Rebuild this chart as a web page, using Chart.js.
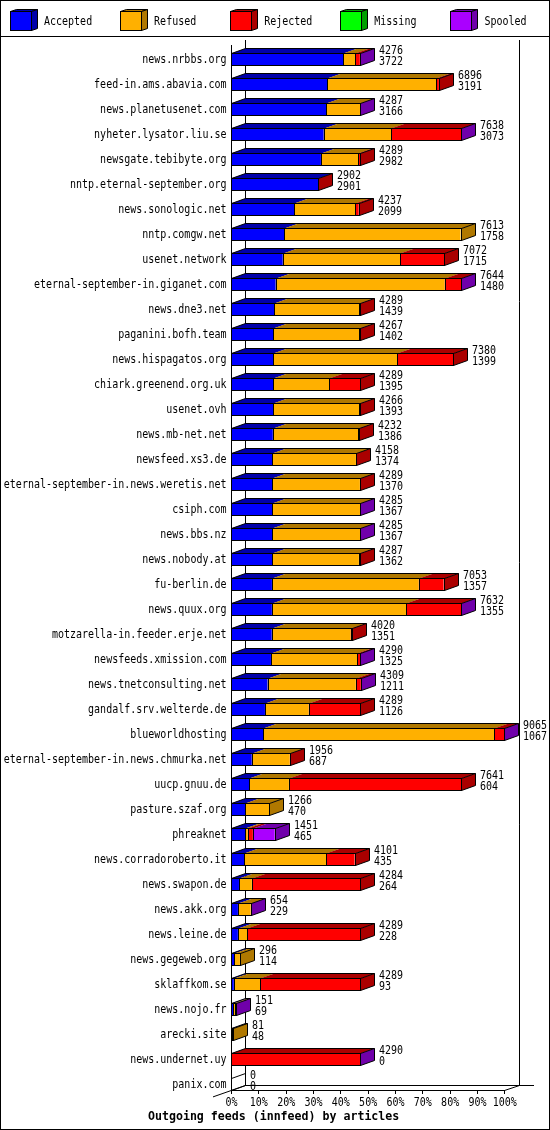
<!DOCTYPE html>
<html><head><meta charset="utf-8">
<script src="https://cdn.jsdelivr.net/npm/chart.js@4.4.0/dist/chart.umd.min.js"></script>
<style>html,body{margin:0;padding:0;background:#fff}canvas{display:block}</style>
</head><body>
<canvas id="c" width="550" height="1130"></canvas>
<script>
const hosts = ['news.nrbbs.org','feed-in.ams.abavia.com','news.planetusenet.com','nyheter.lysator.liu.se','newsgate.tebibyte.org','nntp.eternal-september.org','news.sonologic.net','nntp.comgw.net','usenet.network','eternal-september-in.giganet.com','news.dne3.net','paganini.bofh.team','news.hispagatos.org','chiark.greenend.org.uk','usenet.ovh','news.mb-net.net','newsfeed.xs3.de','eternal-september-in.news.weretis.net','csiph.com','news.bbs.nz','news.nobody.at','fu-berlin.de','news.quux.org','motzarella-in.feeder.erje.net','newsfeeds.xmission.com','news.tnetconsulting.net','gandalf.srv.welterde.de','blueworldhosting','eternal-september-in.news.chmurka.net','uucp.gnuu.de','pasture.szaf.org','phreaknet','news.corradoroberto.it','news.swapon.de','news.akk.org','news.leine.de','news.gegeweb.org','sklaffkom.se','news.nojo.fr','arecki.site','news.undernet.uy','panix.com'];
const offered  = [4276,6896,4287,7638,4289,2902,4237,7613,7072,7644,4289,4267,7380,4289,4266,4232,4158,4289,4285,4285,4287,7053,7632,4020,4290,4309,4289,9065,1956,7641,1266,1451,4101,4284,654,4289,296,4289,151,81,4290,0];
const accepted = [3722,3191,3166,3073,2982,2901,2099,1758,1715,1480,1439,1402,1399,1395,1393,1386,1374,1370,1367,1367,1362,1357,1355,1351,1325,1211,1126,1067,687,604,470,465,435,264,229,228,114,93,69,48,0,0];
const refused  = [406,3610,1118,2250,1240,0,2030,5855,3895,5605,2820,2850,4120,1860,2860,2836,2770,2905,2915,2915,2880,4868,4460,2615,2862,2928,1449,7670,1260,1316,796,90,2724,427,422,318,182,879,80,33,0,0];
const rejected = [145,95,0,2312,67,1,108,0,1462,556,30,15,1861,1034,13,10,14,14,0,0,45,828,1814,54,100,167,1714,325,9,5721,0,170,942,3593,0,3743,0,3317,0,0,4287,0];
const missing  = [0,0,0,0,0,0,0,0,0,0,0,0,0,0,0,0,0,0,0,0,0,0,0,0,0,0,0,0,0,0,0,0,0,0,0,0,0,0,0,0,0,0];
const spooled  = [3,0,3,3,0,0,0,0,0,3,0,0,0,0,0,0,0,0,3,3,0,0,3,0,3,3,0,3,0,0,0,726,0,0,3,0,0,0,2,0,3,0];
const seriesNames = ['Accepted','Refused','Rejected','Missing','Spooled'];
const xTickLabels = ['0%','10%','20%','30%','40%','50%','60%','70%','80%','90%','100%'];
const chartTitle = 'Outgoing feeds (innfeed) by articles';

const FRONT = ['#0000ff','#ffb000','#ff0000','#00ff00','#aa00ff'];
const SHADE = ['#0000aa','#b07800','#aa0000','#00a000','#7000aa'];
const DX = 14, DY = 5, BAR_H = 12;
const FONT = '"DejaVu Sans Mono","Liberation Mono",monospace';
const SX = 0.833;

function txt(ctx, s, x, y, align, opts) {
  opts = opts || {};
  ctx.save();
  ctx.font = (opts.bold ? 'bold ' : '') + (opts.size || 12) + 'px ' + FONT;
  ctx.fillStyle = '#000';
  ctx.textAlign = align;
  ctx.textBaseline = 'alphabetic';
  ctx.translate(x, y);
  ctx.scale(opts.sx || SX, 1);
  ctx.fillText(s, 0, 0);
  ctx.restore();
}
function line(ctx, a, b, c, d) { ctx.beginPath(); ctx.moveTo(a, b); ctx.lineTo(c, d); ctx.stroke(); }
function poly(ctx, pts, fill, stroke) {
  ctx.beginPath(); ctx.moveTo(pts[0][0], pts[0][1]);
  for (let i = 1; i < pts.length; i++) ctx.lineTo(pts[i][0], pts[i][1]);
  ctx.closePath();
  if (fill) { ctx.fillStyle = fill; ctx.fill(); }
  if (stroke) { ctx.strokeStyle = stroke; ctx.stroke(); }
}

const gd3d = {
  id: 'gd3d',
  beforeDatasetsDraw(chart) {
    const ctx = chart.ctx, xs = chart.scales.x, ys = chart.scales.y;
    const x0 = Math.round(xs.getPixelForValue(0));
    const x100 = Math.round(xs.getPixelForValue(xs.max));
    const n = hosts.length;
    const floorF = Math.round(ys.getPixelForValue(n - 1)) + BAR_H / 2;
    const floorB = floorF - DY;
    const xBR = x100 + DX + 1;
    ctx.save();
    ctx.strokeStyle = '#000'; ctx.lineWidth = 1;
    line(ctx, x0 + .5, 45, x0 + .5, floorF + .5);
    line(ctx, x0 + DX + .5, 40, x0 + DX + .5, floorB + .5);
    line(ctx, xBR + .5, 40, xBR + .5, floorB + .5);
    line(ctx, x0 + DX, floorB + .5, xBR + DX + 1, floorB + .5);
    line(ctx, x0 + DX + .5, floorB + .5, x0 - 18, floorF + 6.9);
    line(ctx, x0, floorF + .5, x100 + .5, floorF + .5);
    line(ctx, x100 + .5, floorF + .5, xBR + .5, floorB + .5);
    for (let i = 0; i < xTickLabels.length; i++) {
      const tx = Math.round(xs.getPixelForValue(xs.max * i / (xTickLabels.length - 1)));
      line(ctx, tx + .5, floorF, tx + .5, floorF + 4);
    }
    ctx.restore();
  },
  afterDatasetsDraw(chart) {
    const ctx = chart.ctx, ys = chart.scales.y, xs = chart.scales.x;
    const nds = chart.data.datasets.length;
    ctx.save();
    ctx.lineWidth = 1;
    for (let i = 0; i < hosts.length; i++) {
      const yc = Math.round(ys.getPixelForValue(i));
      const top = yc - BAR_H / 2, bot = yc + BAR_H / 2;
      const segs = [];
      for (let d = 0; d < nds; d++) {
        const v = chart.data.datasets[d].data[i];
        if (!(v > 0)) continue;
        const el = chart.getDatasetMeta(d).data[i];
        segs.push({ d, a: Math.round(Math.min(el.base, el.x)), b: Math.round(Math.max(el.base, el.x)) });
      }
      const xStart = Math.round(xs.getPixelForValue(0));
      const xEnd = segs.length ? segs[segs.length - 1].b : xStart;
      if (segs.length) {
        // top faces
        segs.forEach(s => {
          poly(ctx, [[s.a, top + .5], [s.b + .5, top + .5], [s.b + DX + .5, top - DY + .5], [s.a + DX + .5, top - DY + .5]], SHADE[s.d]);
        });
        const last = segs[segs.length - 1];
        poly(ctx, [[xEnd + .5, top + .5], [xEnd + DX + .5, top - DY + .5], [xEnd + DX + .5, bot - DY + .5], [xEnd + .5, bot + .5]], SHADE[last.d]);
        ctx.strokeStyle = '#000';
        ctx.strokeRect(xStart + .5, top + .5, xEnd - xStart, BAR_H);
        for (let k = 0; k < segs.length - 1; k++) line(ctx, segs[k].b + .5, top, segs[k].b + .5, bot + 1);
        ctx.beginPath();
        ctx.moveTo(xStart + .5, top + .5);
        ctx.lineTo(xStart + DX + .5, top - DY + .5);
        ctx.lineTo(xEnd + DX + .5, top - DY + .5);
        ctx.lineTo(xEnd + .5, top + .5);
        ctx.moveTo(xEnd + DX + .5, top - DY + .5);
        ctx.lineTo(xEnd + DX + .5, bot - DY + .5);
        ctx.lineTo(xEnd + .5, bot + .5);
        ctx.stroke();
      } else {
        ctx.strokeStyle = '#000';
        poly(ctx, [[xEnd + .5, top + .5], [xEnd + DX + .5, top - DY + .5], [xEnd + DX + .5, bot - DY + .5], [xEnd + .5, bot + .5]], null, '#000');
      }
      txt(ctx, String(offered[i]), xEnd + DX + 5, yc - 5, 'left');
      txt(ctx, String(accepted[i]), xEnd + DX + 5, yc + 6, 'left');
      txt(ctx, hosts[i], 226.5, yc + 3.7, 'right');
    }
    ctx.restore();
  },
  afterDraw(chart) {
    const ctx = chart.ctx, xs = chart.scales.x;
    ctx.save();
    ctx.strokeStyle = '#000'; ctx.lineWidth = 1;
    ctx.strokeRect(0.5, 0.5, 549, 1129);
    line(ctx, 0, 36.5, 550, 36.5);
    for (let k = 0; k < seriesNames.length; k++) {
      const lx = 10 + Math.round(110.1 * k);
      const fy = 11, fw = 21, fh = 19, cd = 6, cy = 2;
      poly(ctx, [[lx + .5, fy + .5], [lx + cd + .5, fy - cy + .5], [lx + fw + cd + .5, fy - cy + .5], [lx + fw + .5, fy + .5]], SHADE[k], '#000');
      poly(ctx, [[lx + fw + .5, fy + .5], [lx + fw + cd + .5, fy - cy + .5], [lx + fw + cd + .5, fy + fh - cy + .5], [lx + fw + .5, fy + fh + .5]], SHADE[k], '#000');
      ctx.fillStyle = FRONT[k];
      ctx.fillRect(lx + .5, fy + .5, fw, fh);
      ctx.strokeRect(lx + .5, fy + .5, fw, fh);
      txt(ctx, seriesNames[k], 44 + 110.1 * k, 25, 'left');
    }
    for (let i = 0; i < xTickLabels.length; i++) {
      const tx = xs.getPixelForValue(xs.max * i / (xTickLabels.length - 1));
      txt(ctx, xTickLabels[i], tx + 0.5, 1106, 'center');
    }
    txt(ctx, chartTitle, 148, 1120, 'left', { bold: true, size: 11.6, sx: 1 });
    ctx.restore();
  }
};

const allSeries = [accepted, refused, rejected, missing, spooled];
new Chart(document.getElementById('c').getContext('2d'), {
  type: 'bar',
  data: {
    labels: hosts,
    datasets: seriesNames.map((name, k) => ({
      label: name, data: allSeries[k], backgroundColor: FRONT[k],
      borderWidth: 0, barThickness: BAR_H, stack: 's', inflateAmount: 0
    }))
  },
  options: {
    indexAxis: 'y', responsive: false, animation: false, devicePixelRatio: 1,
    layout: { padding: { left: 231, right: 45.7, top: 46.5, bottom: 33.5 } },
    scales: {
      x: { stacked: true, display: false, min: 0, max: Math.max(...offered) },
      y: { stacked: true, display: false }
    },
    plugins: { legend: { display: false }, tooltip: { enabled: false } }
  },
  plugins: [gd3d]
});
</script>
</body></html>
